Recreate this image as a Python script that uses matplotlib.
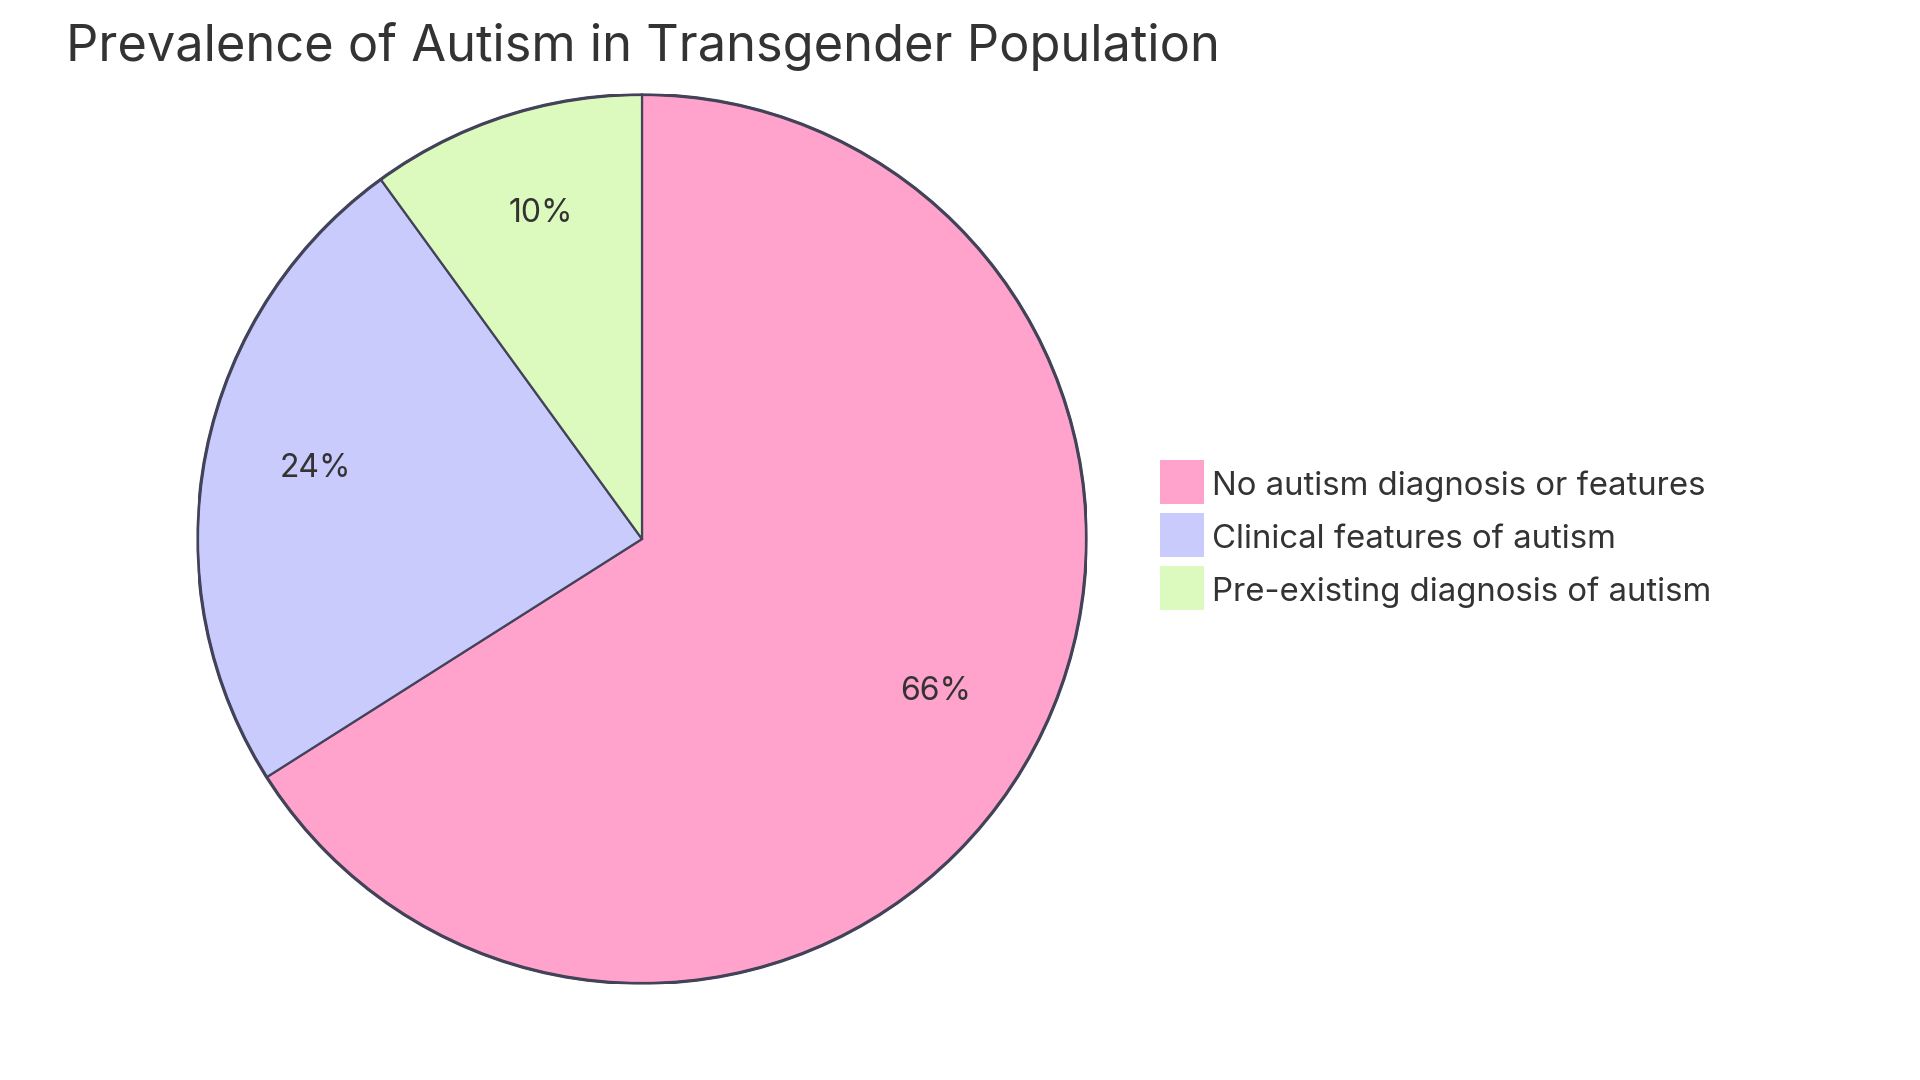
import matplotlib
matplotlib.use("Agg")
import matplotlib.pyplot as plt
from matplotlib.patches import Rectangle, Circle

title = "Prevalence of Autism in Transgender Population"
labels = ["No autism diagnosis or features", "Clinical features of autism", "Pre-existing diagnosis of autism"]
values = [66, 24, 10]
colors = ["#FFA3CD", "#C9CBFD", "#DCFABD"]

FONT = ["Inter", "DejaVu Sans"]
TXT = "#333333"
STROKE = "#424259"

W, H = 1920, 1080
fig = plt.figure(figsize=(W / 100, H / 100), dpi=100)
fig.patch.set_facecolor("white")

cx, cy, r = 642, 539, 444.5
ax = fig.add_axes([(cx - r) / W, (H - cy - r) / H, 2 * r / W, 2 * r / H])

wedges, texts, autotexts = ax.pie(
    values, colors=colors, startangle=90, counterclock=False, radius=1,
    autopct=lambda p: f"{p:.0f}%", pctdistance=0.75,
    wedgeprops=dict(edgecolor=STROKE, linewidth=1.6),
    textprops=dict(fontsize=23, color=TXT, family=FONT),
)
for t in autotexts:
    x, y = t.get_position()
    t.set_position((x + 0.003, y + 0.018))
ax.add_patch(Circle((0, 0), 1, fill=False, edgecolor=STROKE, linewidth=2.3, zorder=5))
ax.set_xlim(-1, 1)
ax.set_ylim(-1, 1)
ax.set_aspect("equal")
ax.axis("off")

fig.text(66 / W, 1 - 61 / H, title, fontsize=36.4, color=TXT, family=FONT,
         ha="left", va="baseline")

sq = 44
x0 = 1160
y0 = 460
step = 53
for i, (lab, col) in enumerate(zip(labels, colors)):
    top = y0 + i * step
    fig.patches.append(Rectangle((x0 / W, 1 - (top + sq) / H), sq / W, sq / H,
                                 transform=fig.transFigure, facecolor=col,
                                 edgecolor="none"))
    fig.text((x0 + sq + 8) / W, 1 - (top + 35) / H, lab, fontsize=23.7, color=TXT,
             family=FONT, ha="left", va="baseline")

fig.savefig("out.png", dpi=100, facecolor="white")
